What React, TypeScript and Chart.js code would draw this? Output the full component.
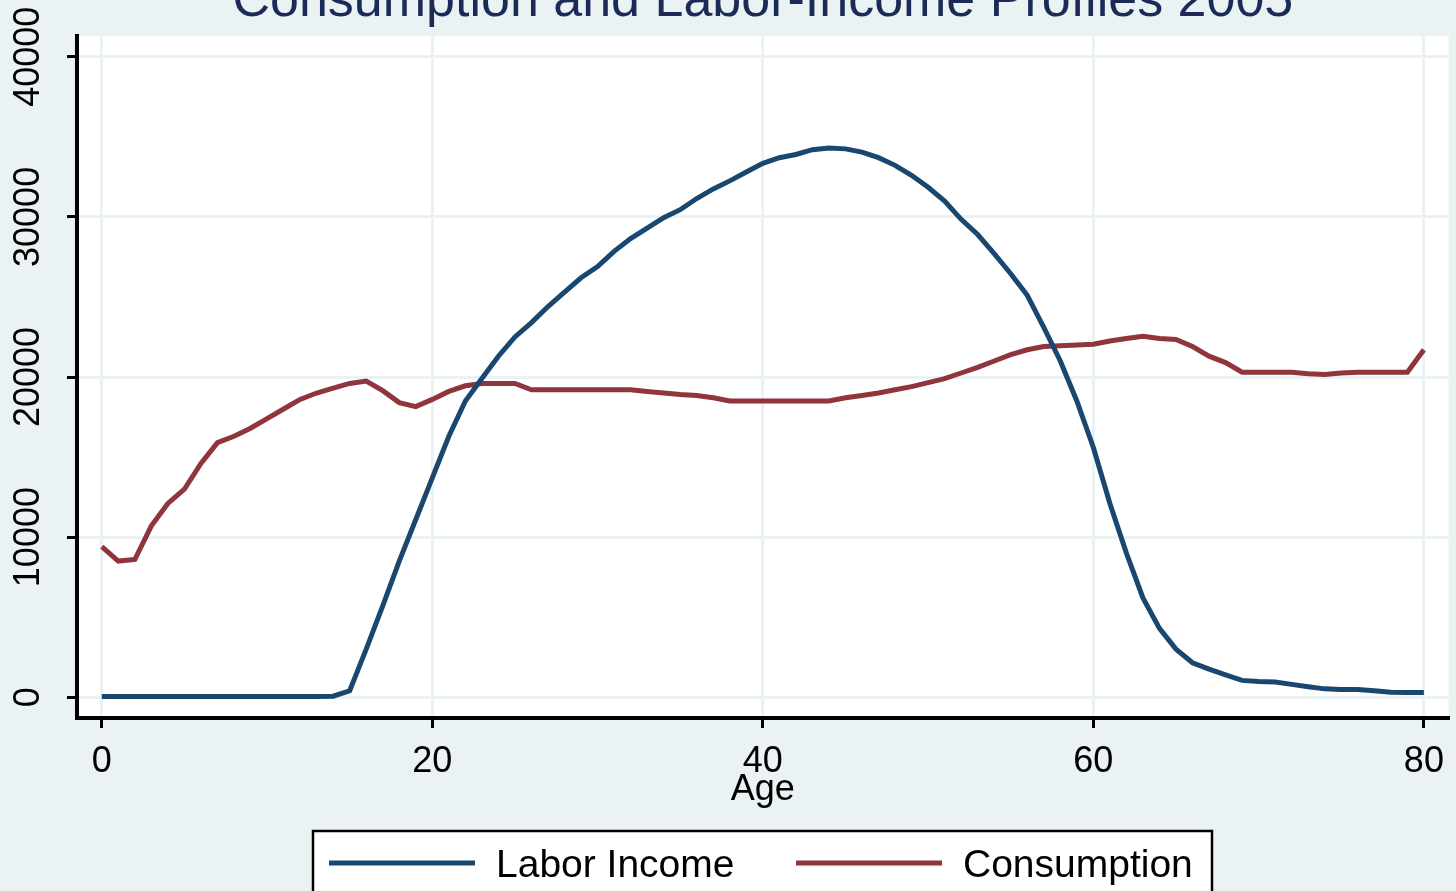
import React, { useEffect, useRef } from "react";
import { Chart, registerables } from "chart.js";

Chart.register(...registerables);

const titleText = "Consumption and Labor-Income Profiles 2005";
const xAxisTitle = "Age";
const seriesLabels = ["Labor Income", "Consumption"];
const seriesColors = ["#1a476f", "#90353b"];

const ages = [
  0, 1, 2, 3, 4, 5, 6, 7, 8, 9, 10, 11, 12, 13, 14, 15, 16, 17, 18, 19, 20,
  21, 22, 23, 24, 25, 26, 27, 28, 29, 30, 31, 32, 33, 34, 35, 36, 37, 38, 39, 40,
  41, 42, 43, 44, 45, 46, 47, 48, 49, 50, 51, 52, 53, 54, 55, 56, 57, 58, 59, 60,
  61, 62, 63, 64, 65, 66, 67, 68, 69, 70, 71, 72, 73, 74, 75, 76, 77, 78, 79, 80,
];

const laborIncome = [
  50, 50, 50, 50, 50, 50, 50, 50, 50, 50, 50, 50, 50, 50, 60, 400, 3000, 5700, 8500, 11100, 13700,
  16300, 18500, 19900, 21300, 22500, 23400, 24400, 25300, 26200, 26900, 27850, 28650, 29300, 29950, 30450,
  31150, 31750, 32250, 32800, 33350, 33700, 33900, 34200, 34300, 34250, 34050, 33700, 33220, 32600, 31850,
  30990, 29850, 28900, 27700, 26450, 25100, 23100, 21000, 18500, 15600, 12100, 9000, 6200, 4300, 3000,
  2150, 1750, 1400, 1050, 980, 950, 800, 650, 520, 480, 480, 400, 310, 300, 300,
];

const consumption = [
  9400, 8500, 8600, 10700, 12100, 13000, 14600, 15900, 16300, 16800, 17400, 18000, 18600, 19000, 19300,
  19600, 19750, 19150, 18400, 18150, 18600, 19100, 19450, 19600, 19600, 19600, 19200, 19200, 19200, 19200,
  19200, 19200, 19200, 19100, 19000, 18900, 18850, 18700, 18500, 18500, 18500, 18500, 18500, 18500, 18500,
  18700, 18850, 19000, 19200, 19400, 19650, 19900, 20250, 20600, 21000, 21400, 21700, 21900, 21950, 22000,
  22050, 22250, 22400, 22550, 22400, 22350, 21900, 21300, 20900, 20300, 20300, 20300, 20300, 20200, 20150,
  20250, 20300, 20300, 20300, 20300, 21700,
];

const xTickValues = [0, 20, 40, 60, 80];
const yTickValues = [0, 10000, 20000, 30000, 40000];

const FONT = "'Liberation Sans', Arial, Helvetica, sans-serif";
const BG = "#eaf2f3";

export default function App() {
  const canvasRef = useRef<HTMLCanvasElement | null>(null);

  useEffect(() => {
    document.body.style.margin = "0";
    const canvas = canvasRef.current;
    if (!canvas) return;

    const plotBg = {
      id: "plotBg",
      beforeDraw(chart: any) {
        const { ctx, chartArea: a } = chart;
        ctx.save();
        ctx.fillStyle = "#ffffff";
        ctx.fillRect(a.left, a.top, a.right - a.left, a.bottom - a.top);
        ctx.restore();
      },
    };

    const titlePlugin = {
      id: "stataTitle",
      afterDraw(chart: any) {
        const { ctx, chartArea: a } = chart;
        ctx.save();
        ctx.fillStyle = "#1c2a58";
        ctx.font = `52px ${FONT}`;
        ctx.textAlign = "center";
        ctx.textBaseline = "alphabetic";
        ctx.fillText(titleText, (a.left + a.right) / 2, 16);
        ctx.restore();
      },
    };

    const legendPlugin = {
      id: "stataLegend",
      afterDraw(chart: any) {
        const { ctx } = chart;
        ctx.save();
        ctx.fillStyle = "#ffffff";
        ctx.fillRect(313, 831, 899, 80);
        ctx.strokeStyle = "#000000";
        ctx.lineWidth = 2.5;
        ctx.strokeRect(313, 831, 899, 80);
        const items = [
          { x0: 329, x1: 475, tx: 496 },
          { x0: 796, x1: 942, tx: 963 },
        ];
        chart.data.datasets.forEach((ds: any, i: number) => {
          const it = items[i];
          ctx.strokeStyle = ds.borderColor;
          ctx.lineWidth = 5;
          ctx.beginPath();
          ctx.moveTo(it.x0, 863);
          ctx.lineTo(it.x1, 863);
          ctx.stroke();
          ctx.fillStyle = "#000000";
          ctx.font = `39px ${FONT}`;
          ctx.textAlign = "left";
          ctx.textBaseline = "alphabetic";
          ctx.fillText(ds.label, it.tx, 877);
        });
        ctx.restore();
      },
    };

    const chart = new Chart(canvas, {
      type: "line",
      data: {
        datasets: [
          {
            label: seriesLabels[0],
            data: ages.map((a, i) => ({ x: a, y: laborIncome[i] })),
            borderColor: seriesColors[0],
            borderWidth: 5,
            pointRadius: 0,
            tension: 0,
            fill: false,
          },
          {
            label: seriesLabels[1],
            data: ages.map((a, i) => ({ x: a, y: consumption[i] })),
            borderColor: seriesColors[1],
            borderWidth: 5,
            pointRadius: 0,
            tension: 0,
            fill: false,
          },
        ],
      },
      options: {
        animation: false,
        responsive: false,
        maintainAspectRatio: false,
        layout: { padding: { left: 0, top: 36, right: 5, bottom: 0 } },
        plugins: {
          legend: { display: false },
          title: { display: false },
          tooltip: { enabled: false },
        },
        scales: {
          x: {
            type: "linear",
            min: -1.5,
            max: 81.5,
            afterBuildTicks: (s: any) => {
              s.ticks = xTickValues.map((v) => ({ value: v }));
            },
            afterFit: (s: any) => {
              s.height = 173;
            },
            grid: {
              color: BG,
              lineWidth: 3,
              drawTicks: true,
              tickLength: 10,
              tickColor: "#000000",
              tickWidth: 3,
            },
            border: { color: "#000000", width: 4 },
            ticks: {
              color: "#000000",
              font: { family: FONT, size: 36 },
              padding: 12,
              minRotation: 0,
              maxRotation: 0,
              callback: (v: any) => String(v),
            },
            title: {
              display: true,
              text: xAxisTitle,
              color: "#000000",
              font: { family: FONT, size: 36 },
              padding: { top: 0, bottom: 79 },
            },
          },
          y: {
            type: "linear",
            min: -1300,
            max: 41300,
            afterBuildTicks: (s: any) => {
              s.ticks = yTickValues.map((v) => ({ value: v }));
            },
            afterFit: (s: any) => {
              s.width = 77;
            },
            grid: {
              color: BG,
              lineWidth: 3,
              drawTicks: true,
              tickLength: 10,
              tickColor: "#000000",
              tickWidth: 3,
            },
            border: { color: "#000000", width: 4 },
            ticks: {
              color: "#000000",
              font: { family: FONT, size: 36 },
              minRotation: 90,
              maxRotation: 90,
              crossAlign: "center",
              padding: -12,
              callback: (v: any) => String(v),
            },
          },
        },
      },
      plugins: [plotBg, titlePlugin, legendPlugin],
    } as any);

    return () => chart.destroy();
  }, []);

  return (
    <div
      style={{
        position: "fixed",
        left: 0,
        top: 0,
        width: 1456,
        height: 891,
        background: BG,
        overflow: "hidden",
      }}
    >
      <canvas ref={canvasRef} width={1456} height={891} style={{ display: "block" }} />
    </div>
  );
}
